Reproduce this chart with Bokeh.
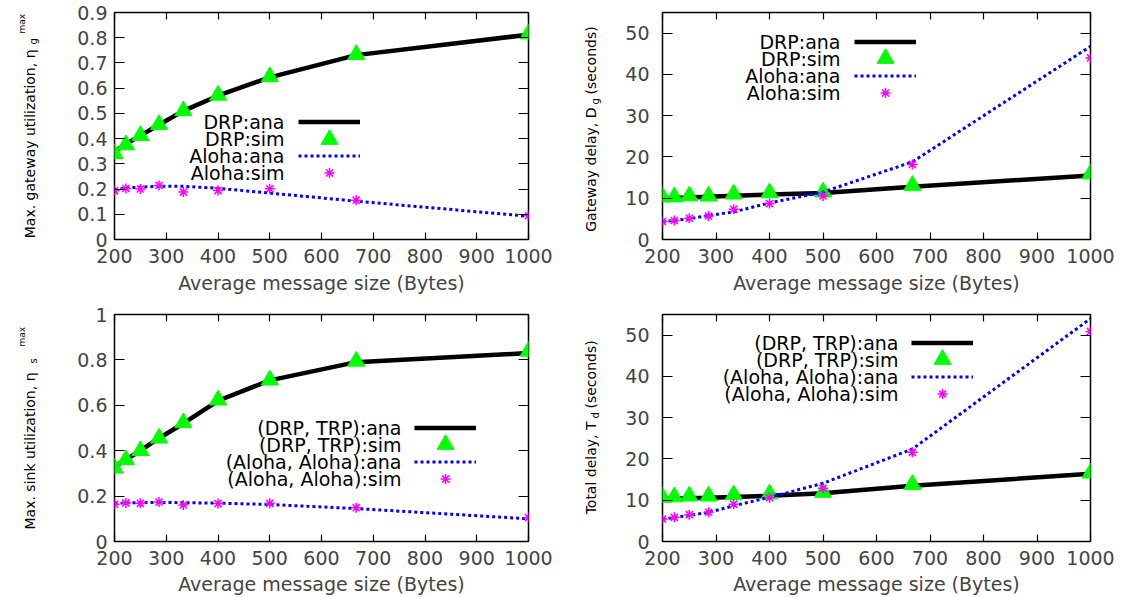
from math import pi
from bokeh.plotting import figure
from bokeh.models import Range1d, FixedTicker, LinearAxis, Label, Legend, LegendItem
from bokeh.layouts import column, row
from bokeh.embed import file_html
from bokeh.resources import INLINE

# ---------------- data ----------------
msg_size = [200, 222, 250, 286, 333, 400, 500, 667, 1000]
x_ticks = [200, 300, 400, 500, 600, 700, 800, 900, 1000]

gw_util_ticks = [0, 0.1, 0.2, 0.3, 0.4, 0.5, 0.6, 0.7, 0.8, 0.9]
delay_ticks = [0, 10, 20, 30, 40, 50]
sink_util_ticks = [0, 0.2, 0.4, 0.6, 0.8, 1]

gw_util_drp_ana = [0.348, 0.378, 0.412, 0.455, 0.510, 0.570, 0.643, 0.731, 0.812]
gw_util_drp_sim = [0.340, 0.375, 0.412, 0.456, 0.510, 0.572, 0.645, 0.733, 0.815]
gw_util_aloha_ana = [0.198, 0.204, 0.208, 0.211, 0.211, 0.203, 0.184, 0.152, 0.092]
gw_util_aloha_sim = [0.193, 0.202, 0.200, 0.214, 0.188, 0.194, 0.201, 0.156, 0.094]

gw_delay_drp_ana = [10.0, 10.1, 10.2, 10.35, 10.6, 10.9, 11.25, 12.8, 15.5]
gw_delay_drp_sim = [10.3, 10.3, 10.55, 10.5, 11.0, 11.3, 11.5, 13.1, 15.9]
gw_delay_aloha_ana = [4.35, 4.6, 5.0, 5.8, 6.7, 8.85, 11.5, 18.8, 46.8]
gw_delay_aloha_sim = [4.35, 4.6, 5.15, 5.7, 7.3, 8.7, 10.55, 18.2, 44.0]

sink_util_drp_ana = [0.330, 0.360, 0.400, 0.455, 0.520, 0.620, 0.710, 0.790, 0.830]
sink_util_drp_sim = [0.323, 0.360, 0.400, 0.455, 0.523, 0.623, 0.711, 0.794, 0.838]
sink_util_aloha_ana = [0.168, 0.170, 0.171, 0.172, 0.171, 0.169, 0.163, 0.145, 0.100]
sink_util_aloha_sim = [0.164, 0.170, 0.168, 0.174, 0.161, 0.167, 0.168, 0.149, 0.105]

total_delay_drp_ana = [10.3, 10.4, 10.5, 10.6, 10.8, 11.1, 11.7, 13.5, 16.4]
total_delay_drp_sim = [10.7, 10.8, 11.0, 11.0, 11.3, 11.5, 11.9, 13.8, 16.6]
total_delay_aloha_ana = [5.4, 5.8, 6.3, 7.05, 8.65, 10.7, 14.1, 22.4, 54.0]
total_delay_aloha_sim = [5.45, 5.85, 6.5, 7.1, 9.05, 10.6, 12.9, 21.6, 50.9]

legend_gw = ["DRP:ana", "DRP:sim", "Aloha:ana", "Aloha:sim"]
legend_e2e = ["(DRP, TRP):ana", "(DRP, TRP):sim", "(Aloha, Aloha):ana", "(Aloha, Aloha):sim"]
x_label = "Average message size (Bytes)"

# ---------------- style ----------------
FONT = "DejaVu Sans"
FS = "19px"
GREEN = "#00ff00"
BLUE = "#0000ff"
MAGENTA = "#ff00ff"
TRI_SIZE = 17
AST_SIZE = 10


def hidden_axis(ticks, tick_in):
    return LinearAxis(ticker=FixedTicker(ticks=ticks), major_label_text_font_size="0px",
                      major_label_text_color=None, major_label_text_alpha=0,
                      major_label_standoff=0, axis_line_color=None, major_tick_in=tick_in,
                      major_tick_out=0, minor_tick_in=0, minor_tick_out=0,
                      major_tick_line_width=1.2)


def make_panel(origin, size, frame, y_max, y_ticks, ys, leg_labels, leg, ystandoff, xl_standoff):
    ox, oy = origin
    W, H = size
    fl, fr, ft, fb = frame
    p = figure(width=W, height=H, x_range=Range1d(200, 1000), y_range=Range1d(0, y_max),
               output_backend="svg", toolbar_location=None,
               min_border_left=fl - ox, min_border_right=ox + W - fr,
               min_border_top=ft - oy, min_border_bottom=oy + H - fb)
    p.background_fill_color = "white"
    p.border_fill_color = "white"
    p.outline_line_color = "black"
    p.outline_line_width = 1.5
    p.xgrid.visible = False
    p.ygrid.visible = False

    def sx(px):
        return px - fl

    def sy(py):
        return fb - py

    xa = p.xaxis[0]
    xa.ticker = FixedTicker(ticks=x_ticks)
    xa.major_tick_in = 7
    xa.major_tick_out = 0
    xa.minor_tick_in = 0
    xa.minor_tick_out = 0
    xa.axis_line_color = None
    xa.major_tick_line_width = 1.2
    xa.major_label_text_font = FONT
    xa.major_label_text_font_size = FS
    xa.major_label_standoff = 9
    xa.axis_label = x_label
    xa.axis_label_text_font = FONT
    xa.axis_label_text_font_size = FS
    xa.axis_label_text_font_style = "normal"
    xa.axis_label_standoff = xl_standoff

    ya = p.yaxis[0]
    ya.ticker = FixedTicker(ticks=y_ticks)
    ya.major_label_overrides = {t: f"{t:g}" for t in y_ticks}
    ya.major_tick_in = 10
    ya.major_tick_out = 0
    ya.minor_tick_in = 0
    ya.minor_tick_out = 0
    ya.axis_line_color = None
    ya.major_tick_line_width = 1.2
    ya.major_label_text_font = FONT
    ya.major_label_text_font_size = FS
    ya.major_label_standoff = ystandoff

    p.add_layout(hidden_axis(x_ticks, 7), "above")
    p.add_layout(hidden_axis(y_ticks, 10), "right")

    r1 = p.line(msg_size, ys[0], line_color="black", line_width=4.5)
    r2 = p.scatter(msg_size, ys[1], marker="triangle", size=TRI_SIZE, fill_color=GREEN, line_color=GREEN)
    r3 = p.line(msg_size, ys[2], line_color=BLUE, line_width=3, line_dash="3 3")
    r4 = p.scatter(msg_size, ys[3], marker="asterisk", size=AST_SIZE, line_color=MAGENTA, line_width=1.5)

    text_right, sample_left, row1, pitch = leg
    # legend marker size in Bokeh = 0.4 * min(glyph box); pick box heights to match markers
    heights = [17, round(TRI_SIZE / 0.4), 17, round(AST_SIZE / 0.4)]
    for i, (r, gh) in enumerate(zip((r1, r2, r3, r4), heights)):
        yc = row1 + i * pitch
        lg = Legend(items=[LegendItem(label=" ", renderers=[r])],
                    location=(sx(sample_left), sy(yc + gh / 2)), orientation="vertical",
                    glyph_width=62, glyph_height=gh, label_width=0, label_height=0,
                    label_standoff=0, spacing=0, padding=0, margin=0,
                    border_line_color=None, background_fill_alpha=0,
                    label_text_font_size="1px", label_text_alpha=0)
        p.add_layout(lg)
        p.add_layout(Label(x=sx(text_right), y=sy(yc), x_units="screen", y_units="screen",
                           text=leg_labels[i], text_align="right", text_baseline="middle",
                           text_font=FONT, text_font_size=FS, text_color="black"))
    return p


def label_fig(origin, size, frame_bottom, pieces):
    # the frames of plots in one row are aligned, so the label positions are
    # measured from the shared frame bottom
    ox, oy = origin
    W, H = size
    f = figure(width=W, height=H, x_range=Range1d(0, W), y_range=Range1d(0, H),
               x_axis_type=None, y_axis_type=None, output_backend="svg",
               toolbar_location=None, min_border=0, outline_line_color=None)
    f.background_fill_color = "white"
    f.border_fill_color = "white"
    for (t, bx, ay, align, fs) in pieces:
        f.add_layout(Label(x=bx - ox, y=frame_bottom - ay, x_units="screen", y_units="screen",
                           text=t, angle=pi / 2, text_align=align, text_baseline="alphabetic",
                           text_font=FONT, text_font_size=f"{fs}px", text_color="black"))
    return f


l1 = label_fig((0, 0), (45, 304), 239,
               [("Max. gateway utilization, η", 29, 49, "right", 14),
                ("g", 33, 44, "left", 10),
                ("max", 21, 33, "left", 9)])
p1 = make_panel((45, 0), (515, 304), (114, 528, 12, 239), 0.9, gw_util_ticks,
                [gw_util_drp_ana, gw_util_drp_sim, gw_util_aloha_ana, gw_util_aloha_sim],
                legend_gw, (284, 298, 121.5, 17), 7, 6)
l2 = label_fig((560, 0), (50, 304), 239,
               [("Gateway delay, D", 590, 107, "right", 14),
                ("g", 595, 104, "left", 10),
                ("(seconds)", 590, 94, "left", 14)])
p2 = make_panel((610, 0), (514, 304), (662, 1090, 12, 239), 55, delay_ticks,
                [gw_delay_drp_ana, gw_delay_drp_sim, gw_delay_aloha_ana, gw_delay_aloha_sim],
                legend_gw, (840, 854, 41, 17), 13, 6)
l3 = label_fig((0, 304), (45, 293), 542,
               [("Max. sink utilization, η", 29, 373, "right", 14),
                ("s", 33, 364, "left", 10),
                ("max", 21, 347, "left", 9)])
p3 = make_panel((45, 304), (515, 293), (114, 528, 314, 542), 1, sink_util_ticks,
                [sink_util_drp_ana, sink_util_drp_sim, sink_util_aloha_ana, sink_util_aloha_sim],
                legend_e2e, (401, 414, 428, 17), 7, 5)
l4 = label_fig((560, 304), (50, 293), 542,
               [("Total delay, T", 590, 422, "right", 14),
                ("d", 595, 419, "left", 10),
                ("(seconds)", 590, 409, "left", 14)])
p4 = make_panel((610, 304), (514, 293), (662, 1090, 314, 542), 55, delay_ticks,
                [total_delay_drp_ana, total_delay_drp_sim, total_delay_aloha_ana, total_delay_aloha_sim],
                legend_e2e, (898, 911, 343, 17), 13, 5)

layout = column(row(l1, p1, l2, p2), row(l3, p3, l4, p4))
open("out.html", "w").write(file_html(layout, INLINE))
